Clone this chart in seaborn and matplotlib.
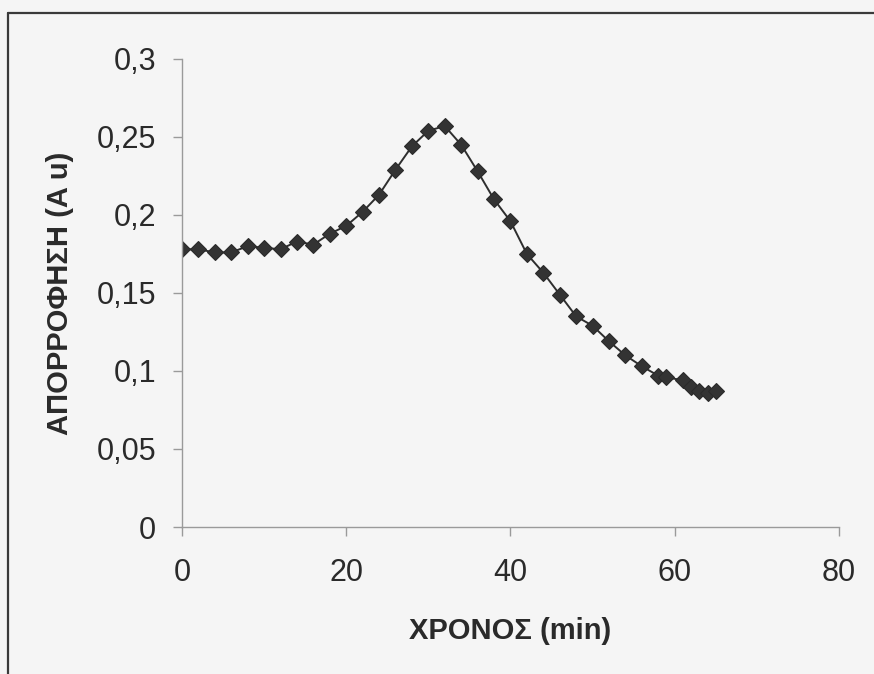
import matplotlib
matplotlib.use("Agg")
import matplotlib.pyplot as plt
from matplotlib.lines import Line2D
from matplotlib.ticker import FixedLocator, FuncFormatter
import seaborn as sns
import pandas as pd

# Data
time_min = [0, 2, 4, 6, 8, 10, 12, 14, 16, 18, 20, 22, 24, 26, 28, 30, 32, 34,
            36, 38, 40, 42, 44, 46, 48, 50, 52, 54, 56, 58, 59, 61, 62, 63, 64, 65]
absorbance = [0.178, 0.178, 0.176, 0.176, 0.180, 0.179, 0.178, 0.183, 0.181,
              0.188, 0.193, 0.202, 0.213, 0.229, 0.244, 0.254, 0.257, 0.245,
              0.228, 0.210, 0.196, 0.175, 0.163, 0.149, 0.135, 0.129, 0.119,
              0.110, 0.103, 0.097, 0.096, 0.094, 0.090, 0.087, 0.086, 0.087]
x_ticks = [0, 20, 40, 60, 80]
y_ticks = [0, 0.05, 0.1, 0.15, 0.2, 0.25, 0.3]
x_label = "ΧΡΟΝΟΣ (min)"
y_label = "ΑΠΟΡΡΟΦΗΣΗ (A u)"

df = pd.DataFrame({"t": time_min, "a": absorbance})

sns.set_style("ticks")
plt.rcParams["font.family"] = ["Liberation Sans", "DejaVu Sans"]

bg = "#f5f5f5"
fig = plt.figure(figsize=(8.74, 6.74), dpi=100, facecolor=bg)
ax = fig.add_axes([0.2082, 0.2181, 0.7517, 0.6944])
ax.set_facecolor(bg)

sns.lineplot(data=df, x="t", y="a", ax=ax, color="#2e2e2e", linewidth=1.4,
             marker="D", markersize=7.8, markerfacecolor="#333333",
             markeredgecolor="#2a2a2a", markeredgewidth=0.8)

ax.set_xlim(0, 80)
ax.set_ylim(0, 0.3)
ax.xaxis.set_major_locator(FixedLocator(x_ticks))
ax.yaxis.set_major_locator(FixedLocator(y_ticks))
fmt = FuncFormatter(lambda v, p: ("%g" % v).replace(".", ","))
ax.xaxis.set_major_formatter(fmt)
ax.yaxis.set_major_formatter(fmt)

for s in ["top", "right"]:
    ax.spines[s].set_visible(False)
for s in ["left", "bottom"]:
    ax.spines[s].set_color("#9a9a9a")
    ax.spines[s].set_linewidth(1.0)

ax.tick_params(axis="both", direction="out", length=6.5, width=1.0,
               color="#9a9a9a", labelsize=22, labelcolor="#2a2a2a")
ax.tick_params(axis="x", pad=16)
ax.tick_params(axis="y", pad=12)

ax.set_xlabel(x_label, fontsize=21, fontweight="bold", color="#2a2a2a", labelpad=21)
ax.set_ylabel(y_label, fontsize=21, fontweight="bold", color="#2a2a2a", labelpad=16)

# outer frame (top and left edges visible in the reference)
W, H = 874, 674
fig.add_artist(Line2D([8 / W, 1.0], [1 - 12.5 / H, 1 - 12.5 / H],
                      transform=fig.transFigure, color="#3a3a3a", linewidth=1.6))
fig.add_artist(Line2D([8 / W, 8 / W], [0.0, 1 - 12.5 / H],
                      transform=fig.transFigure, color="#3a3a3a", linewidth=1.6))

fig.savefig("out.png", dpi=100, facecolor=bg)
